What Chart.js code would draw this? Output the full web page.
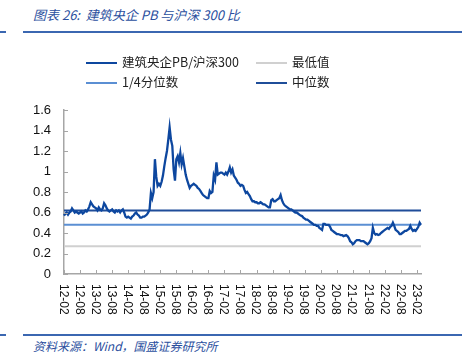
<!DOCTYPE html>
<html>
<head>
<meta charset="utf-8">
<script src="https://cdn.jsdelivr.net/npm/chart.js@4.4.0/dist/chart.umd.min.js"></script>
<style>
  body { margin: 0; background: #fff; width: 462px; height: 364px; position: relative; overflow: hidden; font-family: "Noto Sans CJK SC", sans-serif; }
  #title { position: absolute; left: 33px; top: 5px; font-size: 13px; font-style: italic; color: #2b4f9e; white-space: pre; }
  #footer { position: absolute; left: 33px; top: 337px; font-size: 12px; font-style: italic; color: #2b4f9e; white-space: pre; }
  .bar { position: absolute; height: 2px; background: #3b67b1; }
  #wrap { position: absolute; left: 0; top: 0; width: 462px; height: 364px; }
  .lg { position: absolute; font-size: 12.5px; color: #222; line-height: 16px; white-space: nowrap; }
  .lg i { display: inline-block; width: 31px; height: 2px; vertical-align: middle; margin-right: 5px; position: relative; top: -1px; }
</style>
</head>
<body>
<div id="title">图表 26:  建筑央企 PB 与沪深 300 比</div>
<div class="bar" style="left:0;top:31px;width:6px"></div>
<div class="bar" style="left:23px;top:31px;width:439px"></div>
<div class="bar" style="left:0;top:334px;width:6px"></div>
<div class="bar" style="left:23px;top:334px;width:439px"></div>
<div id="footer">资料来源：Wind，国盛证券研究所</div>
<div id="wrap"><canvas id="chart" width="462" height="364"></canvas></div>
<div id="legend"></div>
<script>
// half-month points, 2012-02 .. 2023-03
const startYear = 2012, startMonth = 2, monthCount = 134;
const dates = [];
for (let i = 0; i < monthCount; i++) {
    const m = startMonth - 1 + i;
    const yy = String((startYear + Math.floor(m / 12)) % 100).padStart(2, '0');
    const mm = String(m % 12 + 1).padStart(2, '0');
    dates.push(yy + '-' + mm, yy + '-' + mm);
}

const pbRatio = [
    // 2012 (02-12)
    0.57,0.59, 0.60,0.58, 0.60,0.61, 0.64,0.62, 0.60,0.61, 0.60,0.59, 0.60,0.61, 0.59,0.60, 0.62,0.61, 0.63,0.66, 0.70,0.68,
    // 2013
    0.66,0.65, 0.64,0.62, 0.65,0.63, 0.62,0.64, 0.69,0.67, 0.64,0.62, 0.61,0.62, 0.63,0.61, 0.60,0.62, 0.61,0.62, 0.60,0.62, 0.63,0.60,
    // 2014
    0.56,0.55, 0.56,0.55, 0.54,0.56, 0.57,0.59, 0.60,0.58, 0.57,0.55, 0.55,0.56, 0.56,0.57, 0.58,0.60, 0.63,0.79, 0.74,0.80, 1.12,0.95,
    // 2015
    0.86,0.88, 0.86,0.90, 0.96,1.05, 1.13,1.20, 1.31,1.43, 1.31,1.25, 1.02,0.91, 1.12,1.15, 1.09,1.18, 1.07,1.13, 1.05,0.97, 0.92,0.88,
    // 2016
    0.84,0.86, 0.87,0.88, 0.87,0.86, 0.84,0.83, 0.81,0.79, 0.77,0.76, 0.75,0.74, 0.74,0.81, 0.79,0.80, 0.96,0.92, 1.09,0.97, 0.98,0.99,
    // 2017
    0.99,0.98, 0.97,0.99, 0.97,1.00, 1.04,0.99, 1.02,0.96, 0.94,0.92, 0.89,0.88, 0.86,0.87, 0.86,0.82, 0.79,0.80, 0.78,0.76, 0.73,0.71,
    // 2018
    0.71,0.70, 0.70,0.69, 0.69,0.70, 0.69,0.68, 0.68,0.67, 0.66,0.65, 0.65,0.72, 0.73,0.71, 0.71,0.72, 0.73,0.74, 0.77,0.72, 0.69,0.67,
    // 2019
    0.66,0.65, 0.64,0.63, 0.63,0.62, 0.61,0.60, 0.60,0.59, 0.58,0.57, 0.565,0.55, 0.54,0.53, 0.53,0.52, 0.51,0.50, 0.49,0.48, 0.48,0.47,
    // 2020
    0.47,0.45, 0.44,0.43, 0.49,0.49, 0.48,0.48, 0.48,0.46, 0.43,0.42, 0.41,0.40, 0.39,0.39, 0.385,0.38, 0.38,0.37, 0.375,0.38, 0.37,0.35,
    // 2021
    0.32,0.31, 0.29,0.30, 0.32,0.33, 0.33,0.33, 0.32,0.32, 0.32,0.31, 0.30,0.29, 0.30,0.32, 0.35,0.45, 0.40,0.385, 0.39,0.38, 0.385,0.40,
    // 2022
    0.41,0.42, 0.43,0.44, 0.45,0.44, 0.46,0.47, 0.50,0.47, 0.43,0.42, 0.41,0.39, 0.39,0.40, 0.41,0.42, 0.42,0.43, 0.44,0.47, 0.44,0.42,
    // 2023 (01-03)
    0.43,0.42, 0.44,0.46, 0.50,0.48
];

const minValue = 0.27;
const quarterValue = 0.48;
const medianValue = 0.62;

const yTicks = [0, 0.2, 0.4, 0.6, 0.8, 1, 1.2, 1.4, 1.6];

const axisColor = '#a6a6a6';

const insideTicks = {
    id: 'insideTicks',
    afterDraw(chart) {
        const c = chart.ctx;
        const xs = chart.scales.x, ys = chart.scales.y;
        const area = chart.chartArea;
        c.save();
        c.strokeStyle = axisColor;
        c.lineWidth = 1;
        c.beginPath();
        for (let i = 0; i < xs.ticks.length; i++) {
            const px = Math.round(xs.getPixelForTick(i)) + 0.5;
            c.moveTo(px, area.bottom);
            c.lineTo(px, area.bottom - 4);
        }
        for (let i = 0; i < ys.ticks.length; i++) {
            const py = Math.round(ys.getPixelForTick(i)) + 0.5;
            c.moveTo(area.left, py);
            c.lineTo(area.left + 4, py);
        }
        c.stroke();
        // rotated date labels, reading top to bottom
        c.fillStyle = '#111';
        c.font = '12px "Liberation Sans", Arial, sans-serif';
        c.textAlign = 'left';
        c.textBaseline = 'middle';
        for (let i = 0; i < xs.ticks.length; i++) {
            const px = xs.getPixelForTick(i) - 1;
            c.save();
            c.translate(px, area.bottom + 10);
            c.rotate(Math.PI / 2);
            c.fillText(dates[xs.ticks[i].value], 0, 0);
            c.restore();
        }
        c.restore();
    }
};

const datasets = [
    { label: '建筑央企PB/沪深300', data: pbRatio, borderColor: '#0d479f', borderWidth: 2.3 },
    { label: '最低值', data: pbRatio.map(() => minValue), borderColor: '#d0d0d0', borderWidth: 2 },
    { label: '1/4分位数', data: pbRatio.map(() => quarterValue), borderColor: '#5b8fd3', borderWidth: 2 },
    { label: '中位数', data: pbRatio.map(() => medianValue), borderColor: '#1f4d99', borderWidth: 2 }
];

const chart = new Chart(document.getElementById('chart'), {
    type: 'line',
    data: { labels: dates, datasets: datasets },
    options: {
        responsive: false,
        animation: false,
        layout: { padding: { left: 24, right: 41, top: 110, bottom: 40 } },
        elements: { point: { radius: 0 }, line: { tension: 0 } },
        plugins: { legend: { display: false }, tooltip: { enabled: false } },
        scales: {
            x: {
                grid: { display: false, drawTicks: false },
                border: { display: true, color: axisColor, width: 1.5 },
                ticks: { display: false, autoSkip: false },
                afterBuildTicks(scale) {
                    scale.ticks = scale.ticks.filter(t => t.value % 2 === 0 &&
                        (dates[t.value].endsWith('-02') || dates[t.value].endsWith('-08')));
                },
                afterFit(scale) { scale.height = 50; }
            },
            y: {
                min: 0, max: 1.6,
                grid: { display: false, drawTicks: false },
                border: { display: true, color: axisColor, width: 1.5 },
                afterBuildTicks(scale) { scale.ticks = yTicks.map(v => ({ value: v })); },
                ticks: {
                    padding: 13,
                    color: '#111',
                    font: { family: '"Liberation Sans", Arial, sans-serif', size: 13 },
                    callback: v => String(Math.round(v * 10) / 10)
                },
                afterFit(scale) { scale.width = 40; }
            }
        }
    },
    plugins: [insideTicks]
});

// two-column legend
const legend = document.getElementById('legend');
datasets.forEach((ds, i) => {
    const el = document.createElement('div');
    el.className = 'lg';
    el.style.left = (86 + (i % 2) * 170) + 'px';
    el.style.top = (54 + Math.floor(i / 2) * 20) + 'px';
    el.innerHTML = '<i style="background:' + ds.borderColor + '"></i>' + ds.label;
    legend.appendChild(el);
});
</script>
</body>
</html>
